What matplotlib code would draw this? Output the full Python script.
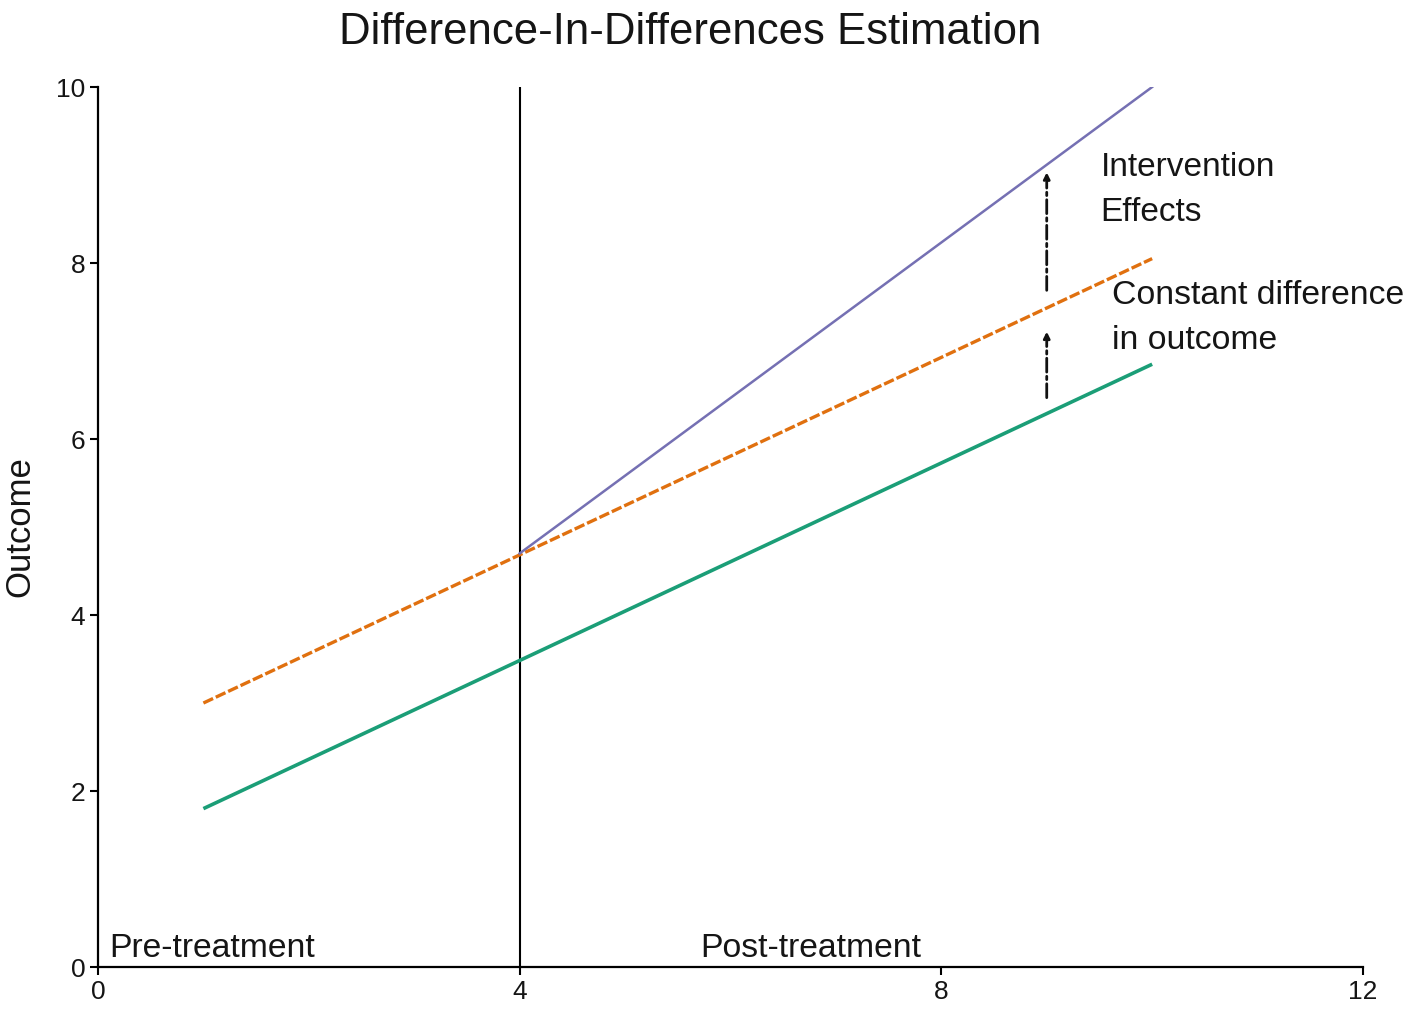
import matplotlib
matplotlib.use('Agg')
import matplotlib.pyplot as plt

plt.rcParams['font.family'] = ['Liberation Sans', 'DejaVu Sans']

# data
control_x = [1, 10]
control_y = [1.8, 6.85]
counterfactual_x = [1, 10]
counterfactual_y = [3.0, 8.05]
treated_x = [4, 10]
treated_y = [4.7, 10.0]
treatment_time = 4
arrow_x = 9
effect_arrow = [7.69, 9.03]   # from, to
const_arrow = [6.47, 7.22]
xticks = [0, 4, 8, 12]
yticks = [0, 2, 4, 6, 8, 10]

fig = plt.figure(figsize=(14.18, 10.19), dpi=100)
ax = fig.add_axes([0.0691, 0.0510, 0.8921, 0.8636])

ax.axvline(treatment_time, color='black', lw=1.5)
ax.plot(control_x, control_y, color='#1b9e77', lw=2.6, solid_capstyle='butt')
ax.plot(counterfactual_x, counterfactual_y, color='#e0700f', lw=2.4,
        ls=(0, (3.2, 0.9)))
ax.plot(treated_x, treated_y, color='#7570b3', lw=1.8)

for y0, y1 in [effect_arrow, const_arrow]:
    ax.annotate('', xy=(arrow_x, y1), xytext=(arrow_x, y0),
                arrowprops=dict(arrowstyle='-|>', color='#111111', lw=2.0,
                                ls=(0, (5, 1.5, 1.2, 1.5)), mutation_scale=9,
                                shrinkA=0, shrinkB=0))

txt_col = '#151515'
ax.text(9.51, 8.83, 'Intervention\nEffects', fontsize=24, va='center',
        ha='left', linespacing=1.6, color=txt_col)
ax.text(9.62, 7.375, 'Constant difference\nin outcome', fontsize=24.3,
        va='center', ha='left', linespacing=1.6, color=txt_col)
ax.text(0.11, 0.04, 'Pre-treatment', fontsize=24.3, va='bottom', color=txt_col)
ax.text(5.71, 0.04, 'Post-treatment', fontsize=24.3, va='bottom', color=txt_col)

fig.text(0.487, 1 - 32 / 1019, 'Difference-In-Differences Estimation',
         fontsize=31.5, ha='center', va='center', color=txt_col)

ax.set_xlim(0, 12)
ax.set_ylim(0, 10)
ax.set_xticks(xticks)
ax.set_yticks(yticks)
ax.set_ylabel('Outcome', fontsize=25, labelpad=14, color=txt_col)
ax.tick_params(axis='both', labelsize=19, width=1.5, length=6, pad=3,
               labelcolor=txt_col)
for s in ['top', 'right']:
    ax.spines[s].set_visible(False)
for s in ['left', 'bottom']:
    ax.spines[s].set_linewidth(1.6)

fig.savefig('out.png', dpi=100)
